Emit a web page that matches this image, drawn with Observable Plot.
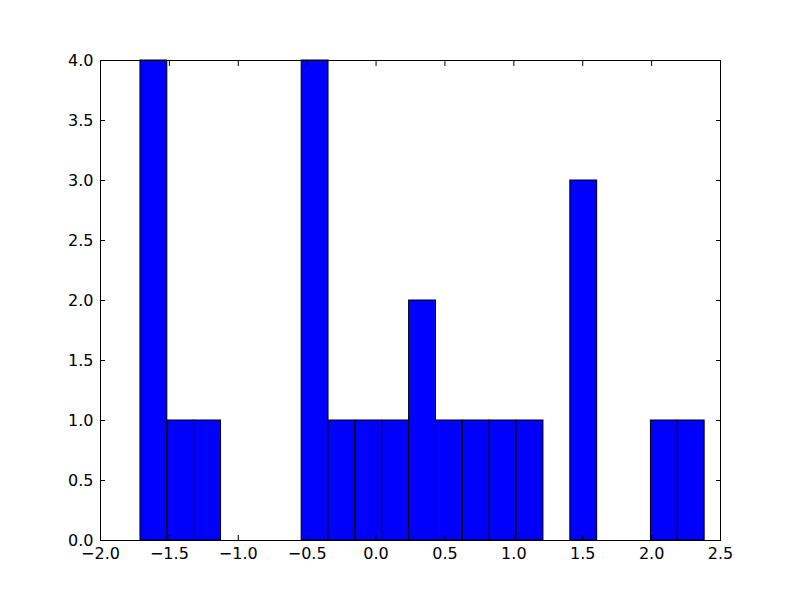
<!DOCTYPE html>
<html>
<head>
<meta charset="utf-8">
<script src="https://cdn.jsdelivr.net/npm/d3@7"></script>
<script src="https://cdn.jsdelivr.net/npm/@observablehq/plot@0.6"></script>
<style>
  html, body { margin: 0; padding: 0; background: #fff; }
  #chart { width: 800px; height: 600px; }
</style>
</head>
<body>
<div id="chart"></div>
<script>
// Histogram bin edges (21 bins) and counts
const binEdges = [-1.710, -1.515, -1.320, -1.125, -0.930, -0.735, -0.540, -0.345, -0.150, 0.045,
                  0.240, 0.435, 0.630, 0.825, 1.020, 1.215, 1.410, 1.605, 1.800, 1.995, 2.190, 2.385];
const binCounts = [4, 1, 1, 0, 0, 0, 4, 1, 1, 1, 2, 1, 1, 1, 1, 0, 3, 0, 0, 1, 1];
const xTicks = [-2.0, -1.5, -1.0, -0.5, 0.0, 0.5, 1.0, 1.5, 2.0, 2.5];
const yTicks = [0.0, 0.5, 1.0, 1.5, 2.0, 2.5, 3.0, 3.5, 4.0];

const bins = binCounts
  .map((c, i) => ({x1: binEdges[i], x2: binEdges[i + 1], count: c}))
  .filter(d => d.count > 0);

const fmt = d3.format(".1f");
const font = {fontFamily: "DejaVu Sans", fontSize: 16};

const chart = Plot.plot({
  width: 800,
  height: 600,
  marginLeft: 100,
  marginRight: 80,
  marginTop: 60,
  marginBottom: 60,
  style: {fontFamily: "DejaVu Sans", fontSize: "16px", background: "#fff", color: "#000"},
  x: {domain: [-2, 2.5]},
  y: {domain: [0, 4]},
  marks: [
    Plot.rectY(bins, {x1: "x1", x2: "x2", y: "count", fill: "#0000ff", stroke: "#000", strokeWidth: 1}),
    // tick labels
    Plot.axisX(xTicks, {anchor: "bottom", tickSize: 0, tickPadding: 7, tickFormat: fmt, label: null, ...font}),
    Plot.axisY(yTicks, {anchor: "left", tickSize: 0, tickPadding: 7, tickFormat: fmt, label: null, ...font}),
    // inward ticks on all four sides
    Plot.axisX(xTicks, {anchor: "bottom", tickSize: 5, dy: -5, text: null, label: null, stroke: "#000"}),
    Plot.axisX(xTicks, {anchor: "top", tickSize: 5, dy: 5, text: null, label: null, stroke: "#000"}),
    Plot.axisY(yTicks, {anchor: "left", tickSize: 5, dx: 5, text: null, label: null, stroke: "#000"}),
    Plot.axisY(yTicks, {anchor: "right", tickSize: 5, dx: -5, text: null, label: null, stroke: "#000"}),
    Plot.frame({stroke: "#000", strokeWidth: 1})
  ]
});
document.getElementById("chart").appendChild(chart);
</script>
</body>
</html>
